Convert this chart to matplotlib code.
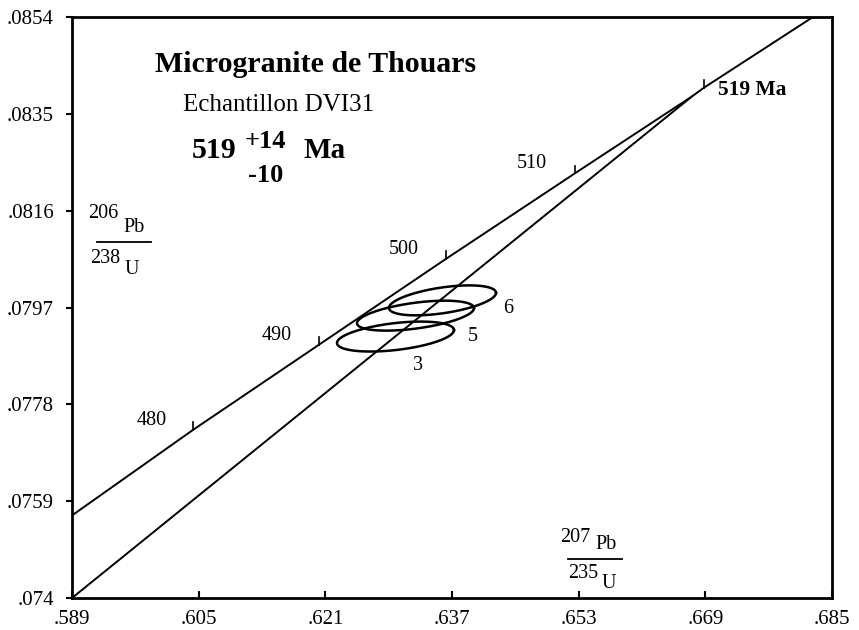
import numpy as np
import matplotlib.pyplot as plt

plt.rcParams['font.family'] = ['Liberation Serif', 'DejaVu Serif']

# concordia curve, points (age in Ma, 207Pb/235U, 206Pb/238U)
conc_age = [470.2, 480, 490, 500, 510, 519, 520, 528.3]
conc_x = [0.5890, 0.6043, 0.6202, 0.6362, 0.6525, 0.6673, 0.6688, 0.6826]
conc_y = [0.07562, 0.07730, 0.07897, 0.08065, 0.08233, 0.08384, 0.08401, 0.0854]

# ages marked on the curve
tick_ages = [480, 490, 500, 510, 520]
tick_labels = ['480', '490', '500', '510', '519 Ma']

# discordia: lower intercept off the plot, upper intercept at 519 Ma
disc_x = [0.589, 0.6673]
disc_y = [0.0740, 0.08384]

# analyses: centre, 2 sigma half widths, correlation
pts = ['6', '5', '3']
cx = [0.63580, 0.63239, 0.62986]
cy = [0.07984, 0.07954, 0.07913]
sx = [0.00676, 0.00739, 0.00739]
sy = [0.000294, 0.000294, 0.000294]
rho = [0.50, 0.50, 0.43]

xticks = [0.589, 0.605, 0.621, 0.637, 0.653, 0.669, 0.685]
yticks = [0.074, 0.0759, 0.0778, 0.0797, 0.0816, 0.0835, 0.0854]
xlabels = ['.589', '.605', '.621', '.637', '.653', '.669', '.685']
ylabels = ['.074', '.0759', '.0778', '.0797', '.0816', '.0835', '.0854']

W, H = 859, 630
fig = plt.figure(figsize=(W/100, H/100), dpi=100)
ax = fig.add_axes([72/W, 32/H, 760/W, 581/H])
ax.set_xlim(0.589, 0.685)
ax.set_ylim(0.074, 0.0854)


def tx(px, py, s, **kw):
    # place a text by figure pixel (from top-left), baseline aligned
    fig.text(px/W, 1 - py/H, s, ha='left', va='baseline', **kw)


ax.plot(conc_x, conc_y, color='black', lw=1.4)
ax.plot(disc_x, disc_y, color='black', lw=1.4)

dy = 0.00015
for a in tick_ages:
    i = conc_age.index(a)
    ax.plot([conc_x[i], conc_x[i]], [conc_y[i], conc_y[i] + dy], color='black', lw=1.2)

lab_px = [(137, 425), (262, 340), (389, 254), (517, 168)]
for t, (px, py) in zip(tick_labels[:4], lab_px):
    tx(px, py, t, fontsize=14.5)
tx(718, 95, tick_labels[4], fontsize=15.5, fontweight='bold')

th = np.linspace(0, 2*np.pi, 200)
for n, x0, y0, a, b, r in zip(pts, cx, cy, sx, sy, rho):
    ex = x0 + a*np.cos(th)
    ey = y0 + b*(r*np.cos(th) + np.sqrt(1 - r*r)*np.sin(th))
    ax.plot(ex, ey, color='black', lw=1.8)

for t, (px, py) in zip(pts, [(503, 313), (468, 341), (413, 370)]):
    tx(px, py, t, fontsize=14.5)

fig.text(316/W, 1 - 72/H, 'Microgranite de Thouars', fontsize=21.5, fontweight='bold',
         ha='center', va='baseline')
fig.text(279/W, 1 - 111/H, 'Echantillon DVI31', fontsize=18, ha='center', va='baseline')
tx(192, 158, '519', fontsize=21.5, fontweight='bold')
tx(245, 148, '+14', fontsize=19, fontweight='bold')
tx(248, 182, '-10', fontsize=19, fontweight='bold')
tx(303, 158, 'Ma', fontsize=21, fontweight='bold')

# y axis label as a fraction
tx(88, 218, '206', fontsize=14.5)
tx(123, 232, 'Pb', fontsize=14.5)
fig.add_artist(plt.Line2D([97/W, 151/W], [1 - 242/H, 1 - 242/H], color='black', lw=1.3))
tx(90, 263, '238', fontsize=14.5)
tx(125, 274, 'U', fontsize=14.5)

# x axis label as a fraction
tx(560, 542, '207', fontsize=14.5)
tx(595, 549, 'Pb', fontsize=14.5)
fig.add_artist(plt.Line2D([568/W, 622/W], [1 - 559/H, 1 - 559/H], color='black', lw=1.3))
tx(568, 578, '235', fontsize=14.5)
tx(602, 588, 'U', fontsize=14.5)

ax.set_xticks(xticks)
ax.set_xticklabels(xlabels)
ax.set_yticks(yticks)
ax.set_yticklabels(ylabels)
ax.tick_params(axis='x', direction='in', length=5, width=1.5, pad=9, labelsize=15)
ax.tick_params(axis='y', direction='out', length=4, width=1.5, pad=9, labelsize=15)
for s in ax.spines.values():
    s.set_linewidth(2)

fig.savefig('out.png', dpi=100)
